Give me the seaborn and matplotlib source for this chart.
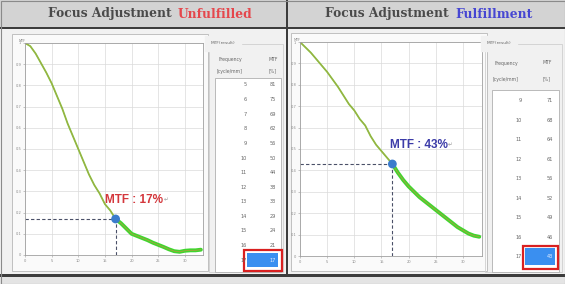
import numpy as np
import pandas as pd
import matplotlib
matplotlib.use("Agg")
import matplotlib.pyplot as plt
from matplotlib.patches import Rectangle
import seaborn as sns

# ---------------- data ----------------
left_title = ["Focus Adjustment", "Unfulfilled"]
right_title = ["Focus Adjustment", "Fulfillment"]

left_freq = [5, 6, 7, 8, 9, 10, 11, 12, 13, 14, 15, 16, 17]
left_mtf = [81, 75, 69, 62, 56, 50, 44, 38, 33, 29, 24, 21, 17]
right_freq = [9, 10, 11, 12, 13, 14, 15, 16, 17]
right_mtf = [71, 68, 64, 61, 56, 52, 49, 46, 43]

curve_x = list(range(0, 34))
left_curve_y = [1.00, 0.985, 0.95, 0.905, 0.86, 0.81, 0.75, 0.69, 0.62, 0.56,
                0.50, 0.44, 0.38, 0.33, 0.29, 0.24, 0.21, 0.17, 0.15, 0.125,
                0.10, 0.09, 0.08, 0.07, 0.058, 0.048, 0.038, 0.027, 0.018, 0.015,
                0.02, 0.022, 0.022, 0.025]
right_curve_y = [1.00, 0.975, 0.95, 0.92, 0.89, 0.86, 0.825, 0.79, 0.75, 0.71,
                 0.68, 0.64, 0.61, 0.56, 0.52, 0.49, 0.46, 0.43, 0.39, 0.355,
                 0.325, 0.30, 0.275, 0.255, 0.235, 0.215, 0.195, 0.175, 0.155, 0.135,
                 0.12, 0.105, 0.095, 0.09]

target_freq = 17
left_label = "MTF : 17%"
right_label = "MTF : 43%"
x_ticks = [0, 5, 10, 15, 20, 25, 30]
y_ticks = [0, 0.1, 0.2, 0.3, 0.4, 0.5, 0.6, 0.7, 0.8, 0.9, 1.0]
y_tick_labels = ["0", "0.1", "0.2", "0.3", "0.4", "0.5", "0.6", "0.7", "0.8", "0.9", "1"]
table_head = ["Frequency", "[cycle/mm]", "MTF", "[%]"]
group_label = "MTF(result)"

# ---------------- figure ----------------
W, H = 565, 284
sns.set_theme(style="whitegrid")
fig = plt.figure(figsize=(W / 100, H / 100), dpi=100, facecolor="#f1f1f1")


def fx(x):
    return x / W


def fy(y):
    return 1 - y / H


def rect(x0, y0, x1, y1, **kw):
    fig.add_artist(Rectangle((fx(x0), fy(y1)), (x1 - x0) / W, (y1 - y0) / H,
                             transform=fig.transFigure, **kw))


def ftext(x, y, s, **kw):
    fig.text(fx(x), fy(y), s, **kw)


# header bar and frame lines
rect(0, 0, 565, 27, fc="#d3d3d3", ec="none")
rect(0, 27, 565, 29, fc="#3c3c3c", ec="none")
rect(0, 277, 565, 284, fc="#e4e4e4", ec="none")
rect(0, 274, 565, 277, fc="#3c3c3c", ec="none")
rect(286, 0, 288, 277, fc="#3c3c3c", ec="none")
rect(0.5, 0.5, 564.5, 283.5, fc="none", ec="#8a8a8a", lw=0.8)

# panel frames around charts
rect(12, 34, 208, 271, fc="#fafafa", ec="#b8b8b8", lw=0.6)
rect(291, 33, 487, 271, fc="#fafafa", ec="#b8b8b8", lw=0.6)

# header texts
hfont = dict(family="DejaVu Serif", fontweight="bold", fontsize=8.8, va="center")
ftext(48, 14, left_title[0], color="#4a4a4a", ha="left", **hfont)
ftext(178, 14, left_title[1], color="#e5474c", ha="left", **hfont)
ftext(325, 14, right_title[0], color="#4a4a4a", ha="left", **hfont)
ftext(455, 14, right_title[1], color="#4646d2", ha="left", **hfont)


def draw_panel(box, xmax, y, label, label_pos, label_color, mtf_val):
    l, t, r, b = box
    ax = fig.add_axes([fx(l), fy(b), (r - l) / W, (b - t) / H])
    ax.set_zorder(2)
    ax.set_facecolor("white")
    df = pd.DataFrame({"freq": curve_x, "mtf": y})
    tail = df[df["freq"] >= target_freq]
    sns.lineplot(data=df, x="freq", y="mtf", ax=ax, color="#7ccf4a", lw=1.3,
                 solid_capstyle="round", solid_joinstyle="round")
    sns.lineplot(data=tail, x="freq", y="mtf", ax=ax, color="#3fd62f", lw=2.8,
                 solid_capstyle="round", solid_joinstyle="round")
    sns.lineplot(data=df, x="freq", y="mtf", ax=ax, color="#a9a23e", lw=0.6,
                 solid_joinstyle="round")
    ax.plot([0, target_freq], [mtf_val, mtf_val], ls=(0, (3, 2)), color="#4a5068", lw=0.8)
    ax.plot([target_freq, target_freq], [0, mtf_val], ls=(0, (3, 2)), color="#4a5068", lw=0.8)
    ax.scatter([target_freq], [mtf_val], s=40, color="#3b7ccc", zorder=5, edgecolor="none")
    t_obj = ax.text(label_pos[0], label_pos[1], label, color=label_color, fontsize=8.5,
                    fontweight="bold", family="Liberation Sans", ha="left", va="center")
    ax.annotate("\u21b5", xy=(1, 0.5), xycoords=t_obj, xytext=(0.5, 0),
                textcoords="offset points", fontsize=4, color="#9a9a9a",
                ha="left", va="center")
    ax.set_xlim(0, xmax)
    ax.set_ylim(0, 1)
    ax.set_xticks(x_ticks)
    ax.set_xticklabels([str(v) for v in x_ticks])
    ax.set_yticks(y_ticks)
    ax.set_yticklabels(y_tick_labels)
    ax.tick_params(labelsize=2.6, labelcolor="#8a8a8a", length=1.5, width=0.4,
                   color="#999999", pad=1.2, left=True, bottom=True)
    ax.grid(True, color="#dadada", lw=0.5)
    for s in ax.spines.values():
        s.set_color("#a0a0a0")
        s.set_linewidth(0.6)
    ax.set_xlabel("")
    ax.set_ylabel("")
    ftext(l - 3, t - 2, "MTF", fontsize=2.4, color="#888888", ha="center", va="center")
    return ax


draw_panel((25, 43, 203, 255), 33.4, left_curve_y, left_label, (15.0, 0.26),
           "#d4373c", left_mtf[-1] / 100)
draw_panel((300, 42, 482, 256), 33.5, right_curve_y, right_label, (16.5, 0.52),
           "#3b3ba8", right_mtf[-1] / 100)


def draw_table(gx0, gx1, listbox, head_pos, freqs, vals, row0, dy,
               fr_x, val_x, hl, red):
    # group box
    rect(gx0, 44, gx1, 272, fc="none", ec="#cfcfcf", lw=0.6)
    ftext(gx0 + 2, 43.5, group_label, fontsize=3.2, color="#6a6a6a", ha="left",
          va="center", backgroundcolor="#f1f1f1")
    lx0, ly0, lx1, ly1 = listbox
    rect(lx0, ly0, lx1, ly1, fc="white", ec="#b0b0b0", lw=0.6)
    (hx1, hy1), (hx2, hy2) = head_pos
    ftext(hx1, hy1, table_head[0], fontsize=3.3, color="#666666", ha="center", va="center")
    ftext(hx1, hy2, table_head[1], fontsize=3.3, color="#666666", ha="center", va="center")
    ftext(hx2, hy1, table_head[2], fontsize=3.3, color="#666666", ha="center", va="center")
    ftext(hx2, hy2, table_head[3], fontsize=3.3, color="#666666", ha="center", va="center")
    n = len(freqs)
    for i, (f, v) in enumerate(zip(freqs, vals)):
        yy = row0 + i * dy
        if i == n - 1:
            rect(hl[0], hl[1], hl[2], hl[3], fc="#3a8ff0", ec="none")
            ftext(fr_x, yy, str(f), fontsize=3.6, color="#666666", ha="right", va="center")
            ftext(val_x, yy, str(v), fontsize=3.6, color="#e8f0ff", ha="right", va="center")
            rect(red[0], red[1], red[2], red[3], fc="none", ec="#d92020", lw=1.6)
        else:
            ftext(fr_x, yy, str(f), fontsize=3.6, color="#666666", ha="right", va="center")
            ftext(val_x, yy, str(v), fontsize=3.6, color="#666666", ha="right", va="center")


draw_table(209, 283, (215, 78, 281, 272), ((230, 59), (273, 71)),
           left_freq, left_mtf, 85, 14.6, 247, 276,
           (247, 253, 278, 267), (243.5, 250, 281.5, 270.5))
draw_table(485, 562, (492, 90, 559, 272), ((506, 63), (547, 79)),
           right_freq, right_mtf, 100.7, 19.5, 522, 553,
           (525, 248, 555, 265), (523, 246, 558, 269))

fig.savefig("out.png", dpi=100, facecolor=fig.get_facecolor())
